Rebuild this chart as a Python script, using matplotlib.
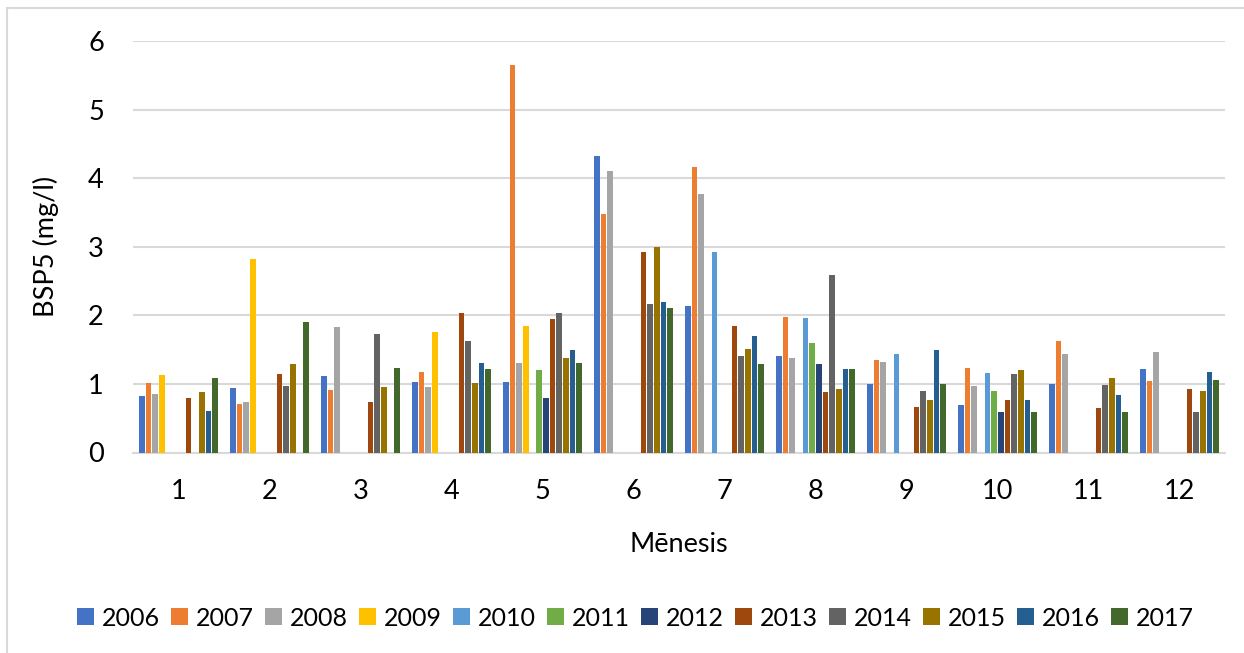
import numpy as np
import matplotlib
matplotlib.use("Agg")
import matplotlib.pyplot as plt
from matplotlib.patches import Rectangle, Patch

plt.rcParams['font.family'] = ['Lato', 'DejaVu Sans']

months = [str(m) for m in range(1, 13)]
years = ['2006', '2007', '2008', '2009', '2010', '2011',
         '2012', '2013', '2014', '2015', '2016', '2017']
colors = ['#4472C4', '#ED7D31', '#A5A5A5', '#FFC000', '#5B9BD5', '#70AD47',
          '#264478', '#9E480E', '#636363', '#997300', '#255E91', '#43682B']

nan = np.nan
# BSP5 (mg/l) per month, one list per year (nan = no measurement)
v2006 = [0.82, 0.94, 1.12, 1.03, 1.03, 4.32, 2.13, 1.41, 1.00, 0.69, 1.00, 1.22]
v2007 = [1.01, 0.70, 0.91, 1.17, 5.65, 3.48, 4.16, 1.98, 1.35, 1.23, 1.62, 1.04]
v2008 = [0.85, 0.73, 1.83, 0.95, 1.30, 4.10, 3.77, 1.38, 1.32, 0.97, 1.43, 1.46]
v2009 = [1.13, 2.82, nan, 1.76, 1.84, nan, nan, nan, nan, nan, nan, nan]
v2010 = [nan, nan, nan, nan, nan, nan, 2.93, 1.96, 1.43, 1.16, nan, nan]
v2011 = [nan, nan, nan, nan, 1.20, nan, nan, 1.60, nan, 0.90, nan, nan]
v2012 = [nan, nan, nan, nan, 0.80, nan, nan, 1.29, nan, 0.59, nan, nan]
v2013 = [0.80, 1.15, 0.73, 2.04, 1.95, 2.93, 1.85, 0.88, 0.67, 0.77, 0.65, 0.92]
v2014 = [nan, 0.97, 1.73, 1.62, 2.04, 2.16, 1.41, 2.59, 0.89, 1.14, 0.98, 0.59]
v2015 = [0.88, 1.29, 0.95, 1.01, 1.38, 3.00, 1.51, 0.93, 0.77, 1.20, 1.09, 0.89]
v2016 = [0.60, nan, nan, 1.30, 1.50, 2.20, 1.70, 1.22, 1.50, 0.76, 0.84, 1.17]
v2017 = [1.08, 1.90, 1.23, 1.22, 1.30, 2.10, 1.29, 1.22, 1.00, 0.59, 0.59, 1.05]
series = [v2006, v2007, v2008, v2009, v2010, v2011,
          v2012, v2013, v2014, v2015, v2016, v2017]

fig = plt.figure(figsize=(12.44, 6.53), dpi=100)
fig.patch.set_facecolor('white')

# outer chart border
fig.add_artist(Rectangle((7 / 1244, -0.05), 1.1, 1 - 8 / 653 + 0.05,
                         transform=fig.transFigure, fill=False,
                         edgecolor='#D9D9D9', linewidth=1.5))

ax = fig.add_axes([133 / 1244, 1 - 452.5 / 653, (1225 - 133) / 1244, (452.5 - 41) / 653])

x = np.arange(len(months))
step = 0.0733
bw = 0.062
for i, (yr, vals, c) in enumerate(zip(years, series, colors)):
    offs = (i - (len(years) - 1) / 2) * step
    ax.bar(x + offs, vals, width=bw, color=c, label=yr, zorder=3)

ax.set_xlim(-0.5, len(months) - 0.5)
ax.set_ylim(0, 6)
ax.set_yticks(range(0, 7))
ax.set_xticks(x)
ax.set_xticklabels(months)
ax.yaxis.grid(True, color='#D9D9D9', linewidth=1.5, zorder=0)
ax.set_axisbelow(True)
for s in ['left', 'right', 'top']:
    ax.spines[s].set_visible(False)
ax.spines['bottom'].set_color('#D9D9D9')
ax.spines['bottom'].set_linewidth(1.5)
ax.tick_params(axis='both', length=0, labelsize=19.5, colors='black')
ax.tick_params(axis='y', pad=21)
ax.tick_params(axis='x', pad=19)

ax.set_xlabel('Mēnesis', fontsize=19.5, labelpad=20)
ax.set_ylabel('BSP5 (mg/l)', fontsize=19.5, labelpad=21)

handles = [Patch(facecolor=c, label=y) for y, c in zip(years, colors)]
fig.legend(handles=handles, loc='center', bbox_to_anchor=(0.511, 1 - 618 / 653),
           ncol=12, frameon=False, fontsize=18, handlelength=0.66,
           handleheight=0.66, handletextpad=0.33, columnspacing=0.45,
           borderpad=0, borderaxespad=0)

fig.savefig('out.png', dpi=100, facecolor='white')
